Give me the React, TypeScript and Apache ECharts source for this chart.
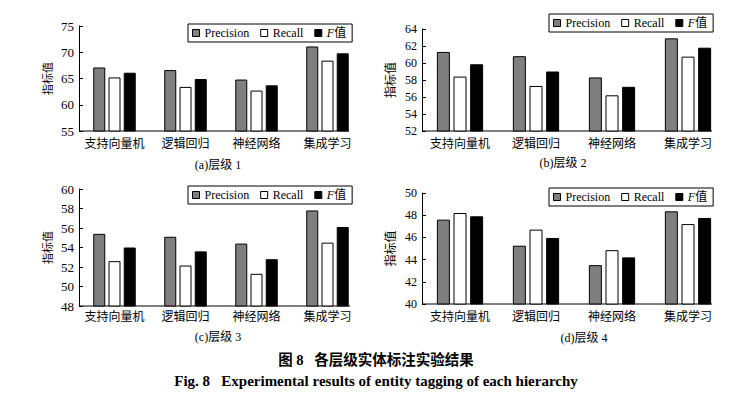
import React, { useEffect, useRef } from 'react';
import * as echarts from 'echarts';

const CATEGORIES = ['支持向量机', '逻辑回归', '神经网络', '集成学习'];
const SERIES_NAMES = ['Precision', 'Recall', 'F值'];

const A_PRECISION = [67.1, 66.6, 64.8, 71.1];
const A_RECALL = [65.2, 63.4, 62.7, 68.4];
const A_F = [66.1, 64.9, 63.7, 69.8];

const B_PRECISION = [61.3, 60.8, 58.3, 62.9];
const B_RECALL = [58.4, 57.3, 56.2, 60.75];
const B_F = [59.85, 59.0, 57.2, 61.8];

const C_PRECISION = [55.4, 55.1, 54.4, 57.8];
const C_RECALL = [52.6, 52.15, 51.3, 54.5];
const C_F = [54.0, 53.6, 52.8, 56.1];

const D_PRECISION = [47.6, 45.25, 43.5, 48.35];
const D_RECALL = [48.2, 46.7, 44.85, 47.2];
const D_F = [47.9, 45.95, 44.2, 47.75];

const Y_RANGES = [
  { min: 55, max: 75, interval: 5 },
  { min: 52, max: 64, interval: 2 },
  { min: 48, max: 60, interval: 2 },
  { min: 40, max: 50, interval: 2 },
];

const SUBTITLES = ['(a)层级 1', '(b)层级 2', '(c)层级 3', '(d)层级 4'];
const Y_NAME = '指标值';
const CAPTION_CN = '图 8   各层级实体标注实验结果';
const CAPTION_EN = 'Fig. 8   Experimental results of entity tagging of each hierarchy';

const SERIF = "'Liberation Serif', 'Noto Sans CJK SC', serif";
const COLORS = ['#7f7f7f', '#ffffff', '#000000'];

// layout per panel
const PANELS = [
  { data: [A_PRECISION, A_RECALL, A_F], grid: { left: 79, top: 26, width: 284, height: 105 }, axisEnd: 349,
    legend: { left: 188, top: 24 }, sub: { x: 218, y: 165 }, tickFont: 13, nameFont: 11, nameGap: 26, labelMargin: 7, barWidth: 12, barGap: '27%' },
  { data: [B_PRECISION, B_RECALL, B_F], grid: { left: 422, top: 29, width: 304, height: 102 }, axisEnd: 712,
    legend: { left: 549, top: 14 }, sub: { x: 563, y: 163 }, tickFont: 12, nameFont: 12, nameGap: 25, labelMargin: 7, barWidth: 13, barGap: '28%' },
  { data: [C_PRECISION, C_RECALL, C_F], grid: { left: 79, top: 189, width: 284, height: 117 }, axisEnd: 350,
    legend: { left: 188, top: 186 }, sub: { x: 218, y: 337 }, tickFont: 13, nameFont: 11, nameGap: 26, labelMargin: 5, barWidth: 12, barGap: '27%' },
  { data: [D_PRECISION, D_RECALL, D_F], grid: { left: 422, top: 193, width: 304, height: 111 }, axisEnd: 712,
    legend: { left: 549, top: 188 }, sub: { x: 584, y: 338 }, tickFont: 12, nameFont: 12, nameGap: 25, labelMargin: 7, barWidth: 13, barGap: '28%' },
];

function buildOption() {
  const grid: any[] = [];
  const xAxis: any[] = [];
  const yAxis: any[] = [];
  const series: any[] = [];
  const legend: any[] = [];
  const graphic: any[] = [];

  PANELS.forEach((p, i) => {
    grid.push({ ...p.grid, containLabel: false });
    xAxis.push({
      type: 'category',
      gridIndex: i,
      data: CATEGORIES,
      axisLine: { show: false },
      axisTick: { show: false },
      axisLabel: { color: '#000', fontSize: 12, fontFamily: SERIF, margin: p.labelMargin, interval: 0 },
    });
    yAxis.push({
      type: 'value',
      gridIndex: i,
      min: Y_RANGES[i].min,
      max: Y_RANGES[i].max,
      interval: Y_RANGES[i].interval,
      name: Y_NAME,
      nameLocation: 'middle',
      nameGap: p.nameGap,
      nameTextStyle: { color: '#000', fontSize: p.nameFont, fontFamily: SERIF },
      axisLine: { show: true, lineStyle: { color: '#000', width: 1 } },
      axisTick: { show: true, inside: true, length: 4, lineStyle: { color: '#000' } },
      axisLabel: { color: '#000', fontSize: p.tickFont, fontFamily: SERIF, margin: 5 },
      splitLine: { show: false },
    });
    p.data.forEach((vals, k) => {
      series.push({
        type: 'bar',
        name: SERIES_NAMES[k],
        xAxisIndex: i,
        yAxisIndex: i,
        data: vals,
        barWidth: p.barWidth,
        barGap: p.barGap,
        itemStyle: { color: COLORS[k], borderColor: '#000', borderWidth: 1 },
        emphasis: { disabled: true },
      });
    });
    legend.push({
      left: p.legend.left,
      top: p.legend.top,
      orient: 'horizontal',
      data: SERIES_NAMES,
      icon: 'rect',
      itemWidth: 7,
      itemHeight: 7,
      itemGap: 11,
      padding: [3, 6, 3, 4],
      borderColor: '#000',
      borderWidth: 1,
      selectedMode: false,
      itemStyle: { borderColor: '#000', borderWidth: 1 },
      textStyle: {
        color: '#000', fontSize: 12, fontFamily: SERIF,
        rich: { i: { fontStyle: 'italic', fontSize: 12, fontFamily: SERIF, color: '#000' } },
      },
      formatter: (n: string) => (n === 'F值' ? '{i|F}值' : n),
    });
    graphic.push({
      type: 'line',
      shape: { x1: p.grid.left, y1: p.grid.top + p.grid.height, x2: p.axisEnd, y2: p.grid.top + p.grid.height },
      style: { stroke: '#000', lineWidth: 1 },
      silent: true,
    });
    graphic.push({
      type: 'text',
      x: p.sub.x,
      y: p.sub.y,
      style: { text: SUBTITLES[i], fill: '#000', font: `12px ${SERIF}`, align: 'center', verticalAlign: 'middle' },
      silent: true,
    });
  });

  graphic.push({
    type: 'text',
    x: 376,
    y: 360,
    style: { text: CAPTION_CN, fill: '#000', font: `bold 14.5px ${SERIF}`, align: 'center', verticalAlign: 'middle' },
    silent: true,
  });
  graphic.push({
    type: 'text',
    x: 376,
    y: 381,
    style: { text: CAPTION_EN, fill: '#000', font: `bold 15px ${SERIF}`, align: 'center', verticalAlign: 'middle' },
    silent: true,
  });

  return {
    animation: false,
    backgroundColor: '#ffffff',
    grid,
    xAxis,
    yAxis,
    series,
    legend,
    graphic,
    tooltip: { show: false },
  };
}

export default function App() {
  const ref = useRef<HTMLDivElement>(null);
  useEffect(() => {
    if (!ref.current) return;
    const chart = echarts.init(ref.current, null, { renderer: 'svg' });
    chart.setOption(buildOption() as any);
    return () => chart.dispose();
  }, []);
  return (
    <div style={{ position: 'fixed', left: 0, top: 0, width: 736, height: 393, background: '#fff', overflow: 'hidden' }}>
      <div ref={ref} style={{ width: 736, height: 393 }} />
    </div>
  );
}
